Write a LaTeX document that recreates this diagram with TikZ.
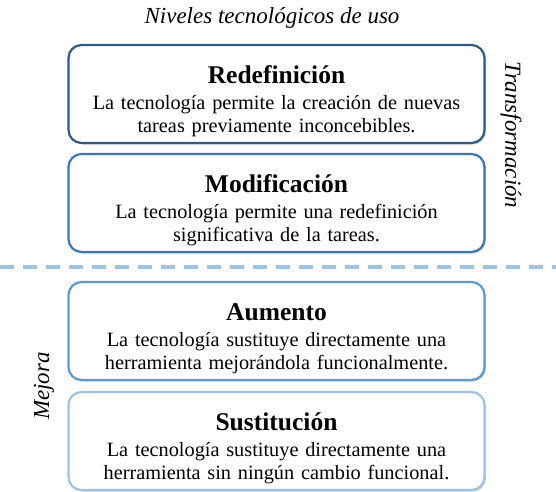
\documentclass[tikz,border=0pt]{standalone}
\usepackage{fontspec}
\setmainfont{Liberation Serif}
\usetikzlibrary{shapes.geometric, arrows, positioning, shadows}
\definecolor{azulA}{HTML}{2E5C8A}
\definecolor{azulB}{HTML}{3A76BF}
\definecolor{azulC}{HTML}{5B9BD5}
\definecolor{azulD}{HTML}{9DC3E6}
\tikzstyle{nivel} = [rectangle, rounded corners=13pt,
minimum width=416pt,
minimum height=98pt,
text width=405pt,
align=center,
font=\fontsize{20.3}{22.5}\selectfont,
line width=2.2pt,
fill=white,
drop shadow={shadow xshift=1.5pt, shadow yshift=-1.5pt, opacity=0.35}]
\newcommand{\cabeza}{\fontsize{25.5}{29}\selectfont\bfseries\rule{0pt}{32pt}}
\tikzstyle{etiqueta} = [font=\fontsize{23}{26}\selectfont\itshape]

\begin{document}
\begin{tikzpicture}[x=1pt, y=-1pt, node distance=109pt]
    \useasboundingbox (0,0) rectangle (556,491);

    \node (nivel) [etiqueta] at (272,18) {Niveles tecnológicos de uso};
    \node (redef) [nivel, draw=azulA] at (276.5,94) {{\cabeza Redefinición}\\[4pt] La tecnología permite la creación de nuevas\\ tareas previamente inconcebibles.};
    \node (modif) [nivel, draw=azulB, below of=redef] {{\cabeza Modificación}\\[4pt] La tecnología permite una redefinición\\ significativa de la tareas.};
    \node (aumen) [nivel, draw=azulC, below of=modif, yshift=-19pt] {{\cabeza Aumento}\\[4pt] La tecnología sustituye directamente una\\ herramienta mejorándola funcionalmente.};
    \node (susti) [nivel, draw=azulD, below of=aumen, yshift=-1pt] {{\cabeza Sustitución}\\[4pt] La tecnología sustituye directamente una\\ herramienta sin ningún cambio funcional.};

    \node (trans) [etiqueta, rotate=-90] at (511,135) {Transformación};
    \node (mejora) [etiqueta, rotate=90] at (44,386) {Mejora};

    \coordinate (limiteA) at (0,267);
    \coordinate (limiteB) at (556,267);
    \draw [azulD, line width=3.5pt, dash pattern=on 14pt off 9pt] (limiteA) -- (limiteB);

\end{tikzpicture}
\end{document}
